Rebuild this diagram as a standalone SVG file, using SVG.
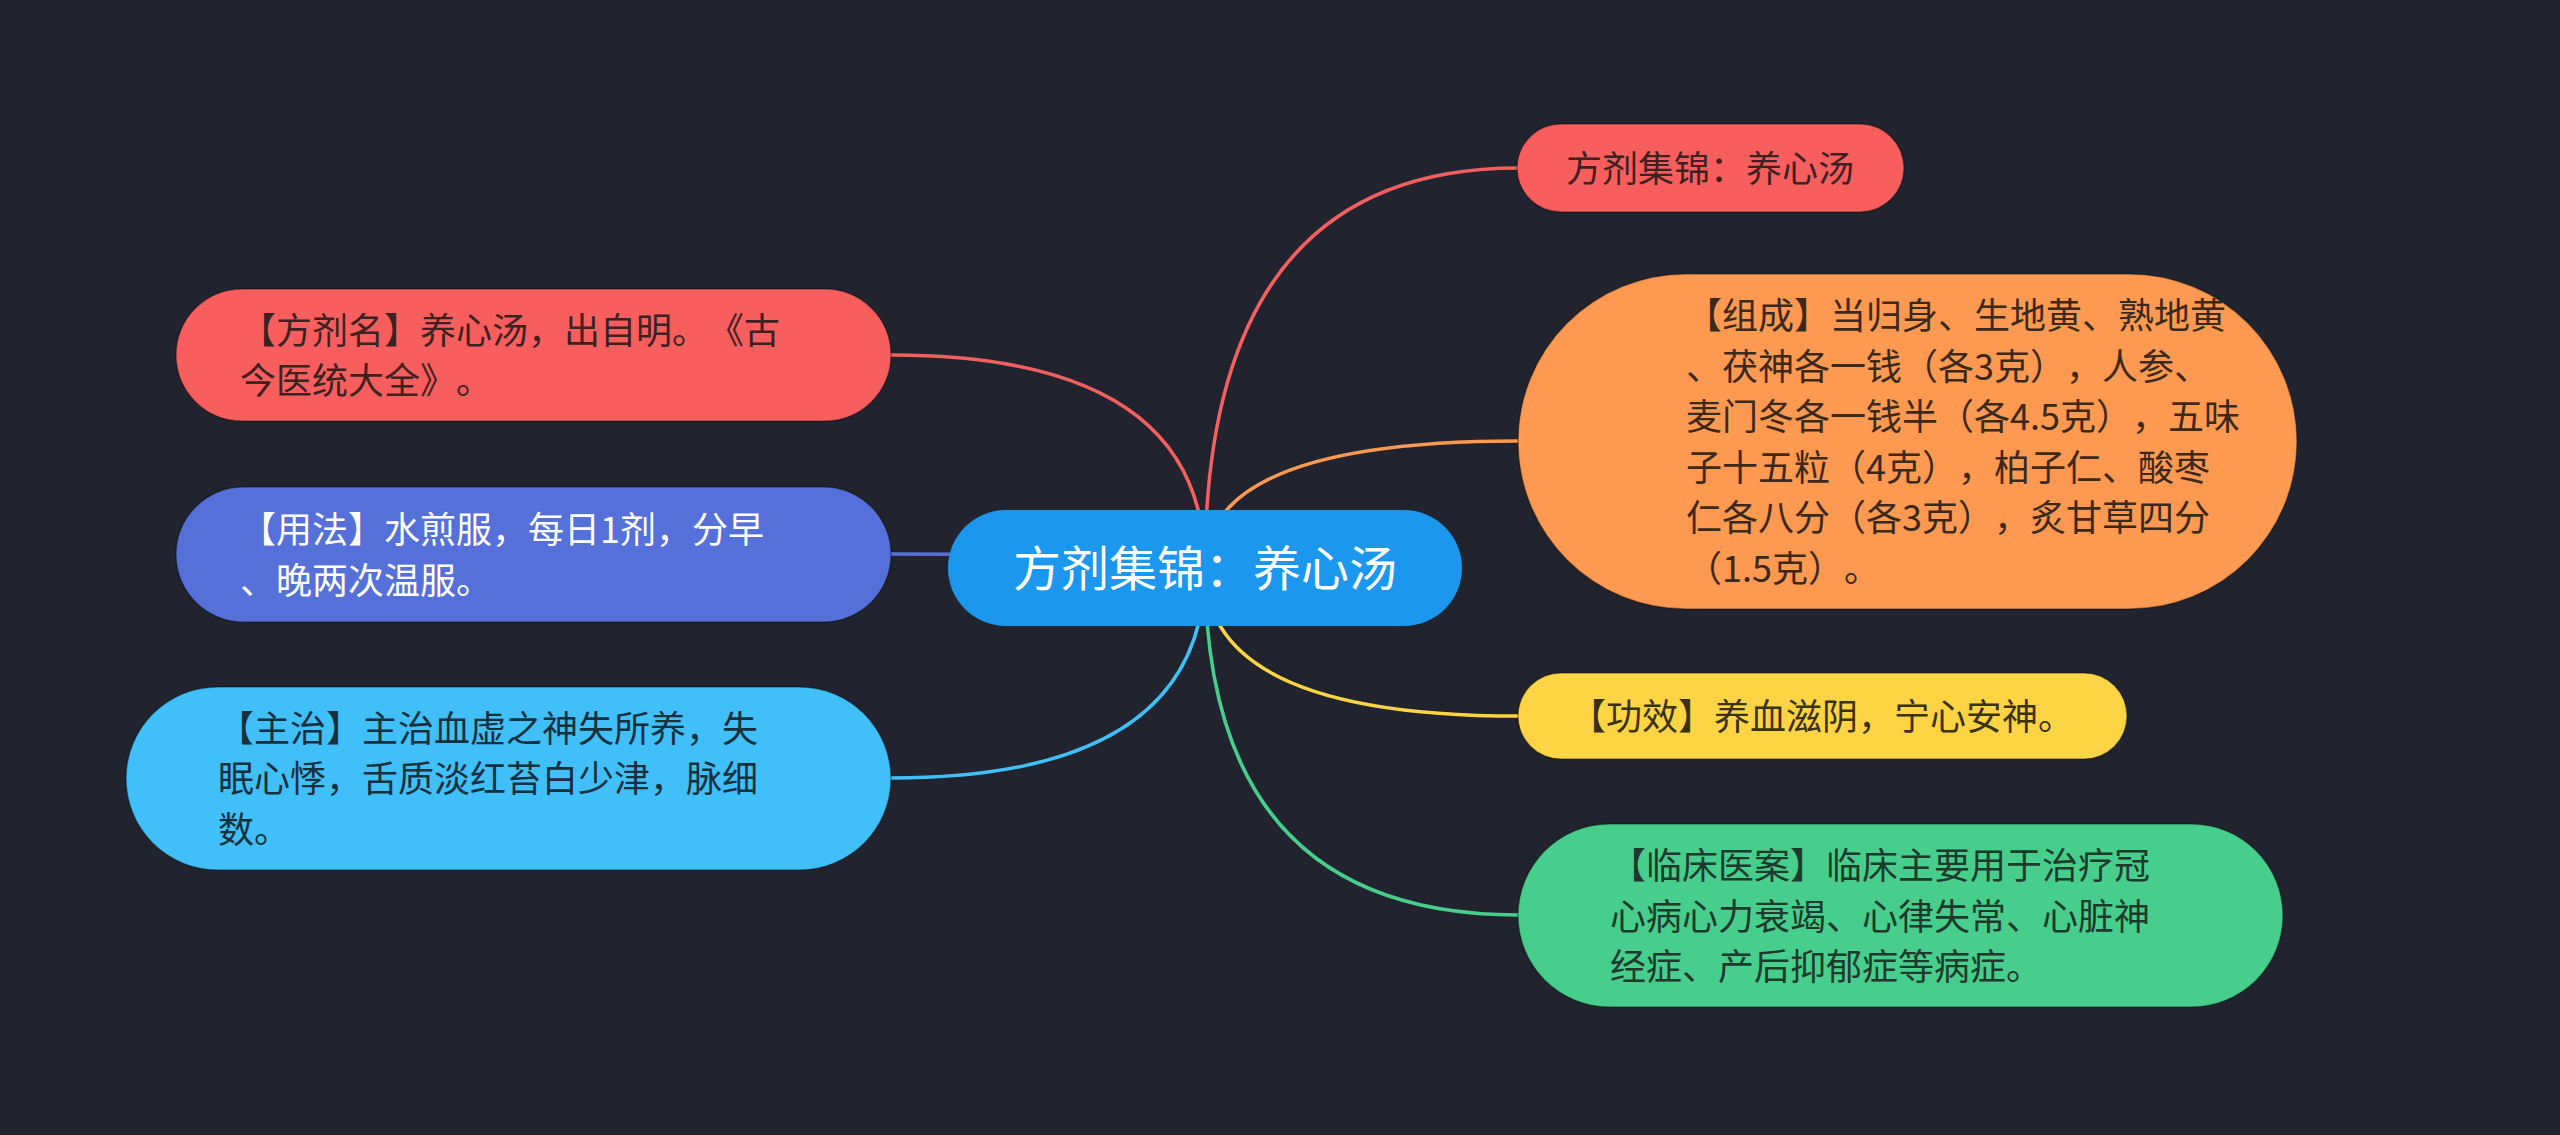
<svg xmlns="http://www.w3.org/2000/svg" width="2560" height="1135" viewBox="0 0 2560 1135">
<style>
.bg{fill:#21242f}
.node{stroke:rgba(0,0,0,0.35);stroke-width:1.5}
.t{font-family:"Noto Sans CJK SC","Noto Sans",sans-serif;font-size:36px;text-spacing-trim:space-all}
.root{font-family:"Noto Sans CJK SC","Noto Sans",sans-serif;font-size:48px;fill:#ffffff}
.edge{fill:none;stroke-width:3.5}
</style>
<rect class="bg" x="0" y="0" width="2560" height="1135"/>
<g id="connectors">
<path class="edge" stroke="#f45f5f" d="M1205 568 Q1205 168 1518 168"/>
<path class="edge" stroke="#fd9950" d="M1205 568 Q1205 441 1518 441"/>
<path class="edge" stroke="#fdd443" d="M1205 568 Q1205 716 1518 716"/>
<path class="edge" stroke="#48ce8c" d="M1205 568 Q1205 915 1518 915"/>
<path class="edge" stroke="#f45f5f" d="M1205 568 Q1205 355 891 355"/>
<path class="edge" stroke="#5670d9" d="M1205 568 Q1205 554 891 554"/>
<path class="edge" stroke="#41bff9" d="M1205 568 Q1205 778 891 778"/>
</g>
<g id="root">
<rect x="948" y="510" width="514" height="116" rx="58" fill="#1b98ee"/>
<text class="root" x="1205" y="586" text-anchor="middle">方剂集锦：养心汤</text>
</g>
<g id="n-title">
<rect class="node" x="1517" y="124" width="387" height="88" rx="44" fill="#f85e5e"/>
<text class="t" x="1710" y="182" text-anchor="middle" fill="#3d2222">方剂集锦：养心汤</text>
</g>
<g id="n-zucheng">
<rect class="node" x="1518" y="274" width="779" height="335" rx="167.5" fill="#fd9950"/>
<text class="t" fill="#3b2a1c">
<tspan x="1686" y="329">【组成】当归身、生地黄、熟地黄</tspan>
<tspan x="1686" y="380">、茯神各一钱（各3克），人参、</tspan>
<tspan x="1686" y="430">麦门冬各一钱半（各4.5克），五味</tspan>
<tspan x="1686" y="481">子十五粒（4克），柏子仁、酸枣</tspan>
<tspan x="1686" y="531">仁各八分（各3克），炙甘草四分</tspan>
<tspan x="1686" y="582">（1.5克）。</tspan>
</text>
</g>
<g id="n-gongxiao">
<rect class="node" x="1518" y="673" width="609" height="86" rx="43" fill="#fdd443"/>
<text class="t" x="1822" y="730" text-anchor="middle" fill="#3a3214">【功效】养血滋阴，宁心安神。</text>
</g>
<g id="n-linchuang">
<rect class="node" x="1518" y="824" width="765" height="183" rx="91.5" fill="#48ce8c"/>
<text class="t" fill="#1d3a2c">
<tspan x="1610" y="879">【临床医案】临床主要用于治疗冠</tspan>
<tspan x="1610" y="930">心病心力衰竭、心律失常、心脏神</tspan>
<tspan x="1610" y="980">经症、产后抑郁症等病症。</tspan>
</text>
</g>
<g id="n-fangjiming">
<rect class="node" x="176" y="289" width="715" height="132" rx="66" fill="#f85e5e"/>
<text class="t" fill="#3d2222">
<tspan x="240" y="344">【方剂名】养心汤，出自明。《古</tspan>
<tspan x="240" y="394">今医统大全》。</tspan>
</text>
</g>
<g id="n-yongfa">
<rect class="node" x="176" y="487" width="715" height="135" rx="67.5" fill="#5670d9"/>
<text class="t" fill="#ffffff">
<tspan x="240" y="543">【用法】水煎服，每日1剂，分早</tspan>
<tspan x="240" y="594">、晚两次温服。</tspan>
</text>
</g>
<g id="n-zhuzhi">
<rect class="node" x="126" y="687" width="765" height="183" rx="91.5" fill="#41bff9"/>
<text class="t" fill="#17303d">
<tspan x="218" y="742">【主治】主治血虚之神失所养，失</tspan>
<tspan x="218" y="792">眠心悸，舌质淡红苔白少津，脉细</tspan>
<tspan x="218" y="843">数。</tspan>
</text>
</g>
</svg>
